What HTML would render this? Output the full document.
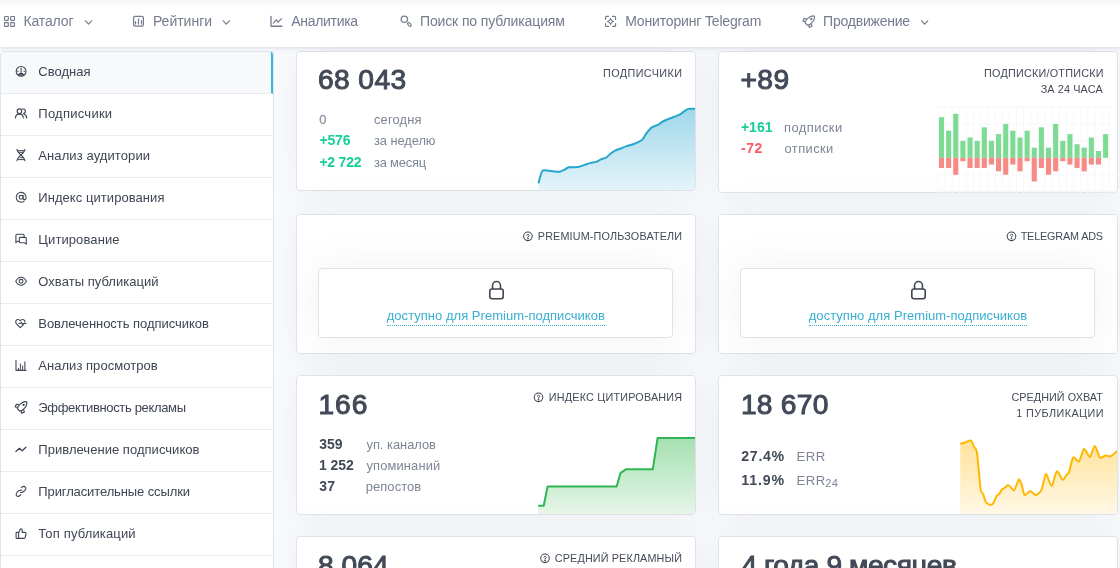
<!DOCTYPE html><html><head><meta charset="utf-8"><title>TGStat</title><style>
*{margin:0;padding:0;box-sizing:border-box}
html,body{width:1120px;height:568px;overflow:hidden}
body{background:#fafbfe;font-family:"Liberation Sans", sans-serif;position:relative}
#root{position:absolute;left:0;top:0;width:1120px;height:568px;overflow:hidden;will-change:transform}
.t{z-index:4;position:absolute;white-space:nowrap;line-height:1}
.nav{z-index:3;position:absolute;left:0;top:0;width:1120px;height:47px;background:linear-gradient(to bottom,#f2f3f5 0,#f9fafa 3px,#fff 9px);box-shadow:0 1px 4px rgba(150,160,180,.35)}
.side{z-index:2;position:absolute;left:0;top:51px;width:274px;height:530px;background:#fff;border:1px solid #dfe3ea;border-radius:4px 0 0 0}
.si{position:absolute;left:0;width:272px;height:42px;border-bottom:1px solid #e9ecf1}
.si.act{background:#f8f9fb;border-right:2px solid #35b8e0;width:272px;border-radius:0 3px 0 0}
.card{position:absolute;width:400px;height:140px;background:#fff;border:1px solid #dfe3e9;border-radius:4px;box-shadow:0 0 35px 0 rgba(154,161,171,.15);overflow:hidden}
.lock{z-index:1;position:absolute;width:355px;height:70px;border:1px solid #dfe3e9;border-radius:4px;background:#fff;box-shadow:0 0 35px 0 rgba(154,161,171,.15)}
.ul{z-index:4;position:absolute;height:0;border-bottom:1px dotted #39afd1}
svg{z-index:4;position:absolute;left:0;top:0;overflow:visible}
</style></head><body><div id="root">
<div class="nav"></div>
<div class="side">
<div class="si act" style="top:0px"></div>
<div class="si" style="top:42px"></div>
<div class="si" style="top:84px"></div>
<div class="si" style="top:126px"></div>
<div class="si" style="top:168px"></div>
<div class="si" style="top:210px"></div>
<div class="si" style="top:252px"></div>
<div class="si" style="top:294px"></div>
<div class="si" style="top:336px"></div>
<div class="si" style="top:378px"></div>
<div class="si" style="top:420px"></div>
<div class="si" style="top:462px"></div>
<div class="si" style="top:504px"></div>
</div>
<div class="card" style="left:296px;top:51px"></div>
<div class="card" style="left:718px;top:51px;height:142px"></div>
<div class="card" style="left:296px;top:214px"></div>
<div class="card" style="left:718px;top:214px"></div>
<div class="card" style="left:296px;top:375px"></div>
<div class="card" style="left:718px;top:375px"></div>
<div class="card" style="left:296px;top:536px"></div>
<div class="card" style="left:718px;top:536px"></div>
<div class="lock" style="left:318px;top:268px"></div>
<div class="lock" style="left:740px;top:268px"></div>
<div class="ul" style="left:387px;top:325px;width:218px"></div><div class="ul" style="left:809px;top:325px;width:218px"></div>
<div class="t" style="left:23.42px;top:14px;font-size:14px;color:#737b8d;letter-spacing:-0.128px">Каталог</div>
<div class="t" style="left:152.92px;top:14px;font-size:14px;color:#737b8d;letter-spacing:-0.009px">Рейтинги</div>
<div class="t" style="left:291.25px;top:14px;font-size:14px;color:#737b8d;letter-spacing:-0.310px">Аналитика</div>
<div class="t" style="left:419.94px;top:14px;font-size:14px;color:#737b8d;letter-spacing:-0.123px">Поиск по публикациям</div>
<div class="t" style="left:625.22px;top:14px;font-size:14px;color:#737b8d;letter-spacing:-0.164px">Мониторинг Telegram</div>
<div class="t" style="left:823.04px;top:14px;font-size:14px;color:#737b8d;letter-spacing:-0.215px">Продвижение</div>
<div class="t" style="left:38.30px;top:65px;font-size:13px;color:#3e4553;letter-spacing:0.000px">Сводная</div>
<div class="t" style="left:38.30px;top:107px;font-size:13px;color:#3e4553;letter-spacing:0.256px">Подписчики</div>
<div class="t" style="left:38.30px;top:149px;font-size:13px;color:#3e4553;letter-spacing:0.096px">Анализ аудитории</div>
<div class="t" style="left:38.30px;top:191px;font-size:13px;color:#3e4553;letter-spacing:0.059px">Индекс цитирования</div>
<div class="t" style="left:38.30px;top:233px;font-size:13px;color:#3e4553;letter-spacing:0.100px">Цитирование</div>
<div class="t" style="left:38.30px;top:275px;font-size:13px;color:#3e4553;letter-spacing:0.041px">Охваты публикаций</div>
<div class="t" style="left:38.30px;top:317px;font-size:13px;color:#3e4553;letter-spacing:-0.043px">Вовлеченность подписчиков</div>
<div class="t" style="left:38.30px;top:359px;font-size:13px;color:#3e4553;letter-spacing:0.036px">Анализ просмотров</div>
<div class="t" style="left:38.30px;top:401px;font-size:13px;color:#3e4553;letter-spacing:-0.344px">Эффективность рекламы</div>
<div class="t" style="left:38.30px;top:443px;font-size:13px;color:#3e4553;letter-spacing:0.037px">Привлечение подписчиков</div>
<div class="t" style="left:38.30px;top:485px;font-size:13px;color:#3e4553;letter-spacing:-0.114px">Пригласительные ссылки</div>
<div class="t" style="left:38.30px;top:527px;font-size:13px;color:#3e4553;letter-spacing:0.149px">Топ публикаций</div>
<div class="t" style="left:317.98px;top:65px;font-size:28.2px;color:#424957;-webkit-text-stroke:1.0px #424957;letter-spacing:0.387px">68 043</div>
<div class="t" style="left:603.10px;top:68px;font-size:10.8px;color:#444a58;letter-spacing:0.403px">ПОДПИСЧИКИ</div>
<div class="t" style="left:319.36px;top:113px;font-size:13px;color:#8e99a6;-webkit-text-stroke:0.3px #8e99a6;letter-spacing:0.000px">0</div>
<div class="t" style="left:374.02px;top:114px;font-size:12.9px;color:#7d8696;letter-spacing:0.134px">сегодня</div>
<div class="t" style="left:319.40px;top:133px;font-size:14px;color:#17cf99;font-weight:700;letter-spacing:-0.125px">+576</div>
<div class="t" style="left:373.94px;top:135px;font-size:12.9px;color:#7d8696;letter-spacing:-0.065px">за неделю</div>
<div class="t" style="left:319.40px;top:155px;font-size:14px;color:#17cf99;font-weight:700;letter-spacing:-0.220px">+2 722</div>
<div class="t" style="left:373.94px;top:157px;font-size:12.9px;color:#7d8696;letter-spacing:-0.180px">за месяц</div>
<div class="t" style="left:740.47px;top:65px;font-size:28.2px;color:#424957;-webkit-text-stroke:1.0px #424957;letter-spacing:0.424px">+89</div>
<div class="t" style="left:984.00px;top:68px;font-size:10.8px;color:#444a58;letter-spacing:0.233px">ПОДПИСКИ/ОТПИСКИ</div>
<div class="t" style="left:1040.63px;top:84px;font-size:10.8px;color:#444a58;letter-spacing:0.153px">ЗА 24 ЧАСА</div>
<div class="t" style="left:740.90px;top:120px;font-size:14px;color:#17cf99;font-weight:700;letter-spacing:0.033px">+161</div>
<div class="t" style="left:784.10px;top:122px;font-size:12.9px;color:#7d8696;letter-spacing:0.457px">подписки</div>
<div class="t" style="left:740.94px;top:141px;font-size:14px;color:#fa5a60;font-weight:700;letter-spacing:0.577px">-72</div>
<div class="t" style="left:784.52px;top:143px;font-size:12.9px;color:#7d8696;letter-spacing:0.412px">отписки</div>
<div class="t" style="left:537.80px;top:231px;font-size:10.8px;color:#444a58;letter-spacing:0.154px">PREMIUM-ПОЛЬЗОВАТЕЛИ</div>
<div class="t" style="left:1020.65px;top:231px;font-size:10.8px;color:#444a58;letter-spacing:-0.142px">TELEGRAM ADS</div>
<div class="t" style="left:386.75px;top:309px;font-size:13px;color:#39afd1;letter-spacing:0.024px">доступно для Premium-подписчиков</div>
<div class="t" style="left:808.75px;top:309px;font-size:13px;color:#39afd1;letter-spacing:0.031px">доступно для Premium-подписчиков</div>
<div class="t" style="left:318.46px;top:390px;font-size:28.2px;color:#424957;-webkit-text-stroke:1.0px #424957;letter-spacing:0.922px">166</div>
<div class="t" style="left:548.80px;top:392px;font-size:10.8px;color:#444a58;letter-spacing:0.200px">ИНДЕКС ЦИТИРОВАНИЯ</div>
<div class="t" style="left:319.14px;top:437px;font-size:14px;color:#424957;font-weight:700;letter-spacing:0.075px">359</div>
<div class="t" style="left:366.46px;top:439px;font-size:12.9px;color:#7d8696;letter-spacing:-0.015px">уп. каналов</div>
<div class="t" style="left:319.10px;top:458px;font-size:14px;color:#424957;font-weight:700;letter-spacing:-0.091px">1 252</div>
<div class="t" style="left:366.46px;top:460px;font-size:12.9px;color:#7d8696;letter-spacing:0.143px">упоминаний</div>
<div class="t" style="left:319.14px;top:479px;font-size:14px;color:#424957;font-weight:700;letter-spacing:0.255px">37</div>
<div class="t" style="left:365.70px;top:481px;font-size:12.9px;color:#7d8696;letter-spacing:0.116px">репостов</div>
<div class="t" style="left:740.96px;top:390px;font-size:28.2px;color:#424957;-webkit-text-stroke:1.0px #424957;letter-spacing:0.237px">18 670</div>
<div class="t" style="left:1011.41px;top:392px;font-size:10.8px;color:#444a58;letter-spacing:0.054px">СРЕДНИЙ ОХВАТ</div>
<div class="t" style="left:1016.26px;top:408px;font-size:10.8px;color:#444a58;letter-spacing:0.421px">1 ПУБЛИКАЦИИ</div>
<div class="t" style="left:741.26px;top:449px;font-size:14.2px;color:#424957;font-weight:700;letter-spacing:0.689px">27.4%</div>
<div class="t" style="left:796.41px;top:450px;font-size:13.2px;color:#7d8696;letter-spacing:0.487px">ERR</div>
<div class="t" style="left:741.20px;top:473px;font-size:14.2px;color:#424957;font-weight:700;letter-spacing:0.890px">11.9%</div>
<div class="t" style="left:796.41px;top:474px;font-size:13.2px;color:#7d8696;letter-spacing:0.487px">ERR</div>
<div class="t" style="left:825.33px;top:478px;font-size:11px;color:#7d8696;letter-spacing:0.196px">24</div>
<div class="t" style="left:318.03px;top:551px;font-size:28.2px;color:#424957;-webkit-text-stroke:1.0px #424957;letter-spacing:0.049px">8 064</div>
<div class="t" style="left:554.81px;top:553px;font-size:10.8px;color:#444a58;letter-spacing:0.143px">СРЕДНИЙ РЕКЛАМНЫЙ</div>
<div class="t" style="left:741.50px;top:551px;font-size:28.2px;color:#424957;-webkit-text-stroke:1.0px #424957;letter-spacing:-0.469px">4 года 9 месяцев</div>
<svg width="1120" height="568" viewBox="0 0 1120 568" fill="none" stroke-linecap="round" stroke-linejoin="round">
<defs>
<linearGradient id="gb" x1="0" y1="0" x2="0" y2="1"><stop offset="0" stop-color="#9fd7ea"/><stop offset="1" stop-color="#e4f4f9"/></linearGradient>
<linearGradient id="gg" x1="0" y1="0" x2="0" y2="1"><stop offset="0" stop-color="#a6e0b1"/><stop offset="1" stop-color="#e6f6e9"/></linearGradient>
<linearGradient id="gy" x1="0" y1="0" x2="0" y2="1"><stop offset="0" stop-color="#ffe29a"/><stop offset="1" stop-color="#fff8e6"/></linearGradient>
</defs>
<clipPath id="c1"><rect x="297" y="52" width="398" height="138" rx="3"/></clipPath><g clip-path="url(#c1)"><path d="M538.4,183.3C538.9,181.7 541.0,172.7 542.3,171.0C543.6,169.3 547.0,170.6 548.5,170.7C550.0,170.8 552.3,171.3 553.8,171.4C555.3,171.5 558.2,171.9 559.6,171.7C561.0,171.5 563.1,170.4 564.3,169.8C565.5,169.2 567.4,167.6 568.7,167.3C570.0,167.0 572.5,167.4 574.0,167.3C575.5,167.2 578.6,166.9 580.2,166.5C581.8,166.1 584.9,164.8 586.3,164.3C587.7,163.8 589.4,163.2 590.7,162.9C592.0,162.6 594.7,162.3 596.0,161.9C597.3,161.5 599.1,160.2 600.4,159.6C601.7,159.0 604.7,158.4 606.0,157.7C607.3,157.0 608.8,155.0 610.1,154.0C611.4,153.0 613.9,151.2 615.4,150.4C616.9,149.6 620.1,148.7 621.5,148.2C622.9,147.7 624.4,146.9 625.9,146.4C627.4,145.9 631.4,144.9 633.0,144.3C634.6,143.7 636.9,142.9 638.2,142.2C639.5,141.5 641.5,140.5 642.6,139.4C643.7,138.3 645.0,135.3 646.2,133.7C647.4,132.1 650.2,128.6 651.8,127.4C653.4,126.2 657.1,125.3 658.5,124.6C659.9,123.9 660.7,122.6 662.0,121.9C663.3,121.2 666.6,119.8 668.2,119.1C669.8,118.4 672.8,117.4 674.3,116.8C675.8,116.2 678.4,115.3 679.6,114.7C680.8,114.1 681.9,112.9 683.1,112.1C684.3,111.3 686.8,109.3 688.4,108.9C690.0,108.5 694.1,108.9 695.0,108.9 L695.0,190 L538.4,190 Z" fill="url(#gb)" stroke="none"/><path d="M538.4,183.3C538.9,181.7 541.0,172.7 542.3,171.0C543.6,169.3 547.0,170.6 548.5,170.7C550.0,170.8 552.3,171.3 553.8,171.4C555.3,171.5 558.2,171.9 559.6,171.7C561.0,171.5 563.1,170.4 564.3,169.8C565.5,169.2 567.4,167.6 568.7,167.3C570.0,167.0 572.5,167.4 574.0,167.3C575.5,167.2 578.6,166.9 580.2,166.5C581.8,166.1 584.9,164.8 586.3,164.3C587.7,163.8 589.4,163.2 590.7,162.9C592.0,162.6 594.7,162.3 596.0,161.9C597.3,161.5 599.1,160.2 600.4,159.6C601.7,159.0 604.7,158.4 606.0,157.7C607.3,157.0 608.8,155.0 610.1,154.0C611.4,153.0 613.9,151.2 615.4,150.4C616.9,149.6 620.1,148.7 621.5,148.2C622.9,147.7 624.4,146.9 625.9,146.4C627.4,145.9 631.4,144.9 633.0,144.3C634.6,143.7 636.9,142.9 638.2,142.2C639.5,141.5 641.5,140.5 642.6,139.4C643.7,138.3 645.0,135.3 646.2,133.7C647.4,132.1 650.2,128.6 651.8,127.4C653.4,126.2 657.1,125.3 658.5,124.6C659.9,123.9 660.7,122.6 662.0,121.9C663.3,121.2 666.6,119.8 668.2,119.1C669.8,118.4 672.8,117.4 674.3,116.8C675.8,116.2 678.4,115.3 679.6,114.7C680.8,114.1 681.9,112.9 683.1,112.1C684.3,111.3 686.8,109.3 688.4,108.9C690.0,108.5 694.1,108.9 695.0,108.9" stroke="#27a6cf" stroke-width="2" fill="none" stroke-linecap="butt"/></g>
<clipPath id="c3"><rect x="297" y="376" width="398" height="138" rx="3"/></clipPath><g clip-path="url(#c3)"><path d="M538.1,505.7 L543.7,505.7 L547.6,486.5 L616.6,486.5 L620.6,472.8 L625.9,469.3 L652.8,469.3 L657.6,438.0 L695.0,438.0 L695.0,514 L538.1,514 Z" fill="url(#gg)" stroke="none"/><path d="M538.1,505.7 L543.7,505.7 L547.6,486.5 L616.6,486.5 L620.6,472.8 L625.9,469.3 L652.8,469.3 L657.6,438.0 L695.0,438.0" stroke="#2fb653" stroke-width="2" fill="none" stroke-linecap="butt"/></g>
<clipPath id="c4"><rect x="719" y="376" width="398" height="138" rx="3"/></clipPath><g clip-path="url(#c4)"><path d="M960.2,443.8C960.9,443.6 964.3,442.6 965.8,442.2C967.3,441.8 970.0,440.0 971.1,440.6C972.2,441.2 973.0,444.9 973.8,446.4C974.6,447.9 976.1,448.2 976.8,451.7C977.5,455.2 978.5,467.6 979.0,472.8C979.5,478.0 980.3,487.6 980.8,490.4C981.3,493.2 982.4,492.3 983.1,493.9C983.8,495.5 984.9,501.0 986.1,502.4C987.3,503.8 990.8,505.4 992.2,504.5C993.6,503.6 995.7,497.4 996.6,496.0C997.5,494.6 998.6,494.8 999.3,493.9C1000.0,493.0 1001.2,490.3 1001.9,489.5C1002.6,488.7 1004.0,488.4 1004.9,487.8C1005.8,487.2 1007.2,484.8 1008.4,485.1C1009.6,485.4 1012.6,490.4 1013.7,490.4C1014.8,490.4 1015.8,486.6 1016.5,485.1C1017.2,483.6 1018.5,479.3 1019.2,479.3C1019.9,479.3 1021.1,483.0 1021.8,485.1C1022.5,487.2 1023.7,494.4 1024.8,495.2C1025.9,496.0 1028.6,490.9 1030.1,490.9C1031.6,490.9 1034.2,495.3 1035.7,495.2C1037.2,495.1 1040.1,492.7 1041.5,489.9C1042.9,487.1 1044.6,474.5 1045.9,474.0C1047.2,473.5 1050.1,486.3 1051.6,486.0C1053.1,485.7 1055.3,472.2 1056.8,471.4C1058.3,470.6 1061.3,479.3 1062.6,479.8C1063.9,480.3 1065.3,476.5 1066.2,475.4C1067.1,474.3 1068.2,474.3 1069.1,471.9C1070.0,469.5 1071.9,458.9 1073.2,457.5C1074.5,456.1 1077.5,462.5 1079.0,461.4C1080.5,460.3 1082.6,449.6 1084.1,449.0C1085.6,448.4 1088.5,457.4 1089.9,457.0C1091.3,456.6 1093.5,445.9 1094.8,446.0C1096.1,446.1 1098.5,456.2 1099.9,457.5C1101.3,458.8 1103.9,455.8 1105.4,455.6C1106.9,455.4 1109.5,456.7 1111.0,456.1C1112.5,455.5 1116.2,451.7 1117.0,451.0 L1117.0,514 L960.2,514 Z" fill="url(#gy)" stroke="none"/><path d="M960.2,443.8C960.9,443.6 964.3,442.6 965.8,442.2C967.3,441.8 970.0,440.0 971.1,440.6C972.2,441.2 973.0,444.9 973.8,446.4C974.6,447.9 976.1,448.2 976.8,451.7C977.5,455.2 978.5,467.6 979.0,472.8C979.5,478.0 980.3,487.6 980.8,490.4C981.3,493.2 982.4,492.3 983.1,493.9C983.8,495.5 984.9,501.0 986.1,502.4C987.3,503.8 990.8,505.4 992.2,504.5C993.6,503.6 995.7,497.4 996.6,496.0C997.5,494.6 998.6,494.8 999.3,493.9C1000.0,493.0 1001.2,490.3 1001.9,489.5C1002.6,488.7 1004.0,488.4 1004.9,487.8C1005.8,487.2 1007.2,484.8 1008.4,485.1C1009.6,485.4 1012.6,490.4 1013.7,490.4C1014.8,490.4 1015.8,486.6 1016.5,485.1C1017.2,483.6 1018.5,479.3 1019.2,479.3C1019.9,479.3 1021.1,483.0 1021.8,485.1C1022.5,487.2 1023.7,494.4 1024.8,495.2C1025.9,496.0 1028.6,490.9 1030.1,490.9C1031.6,490.9 1034.2,495.3 1035.7,495.2C1037.2,495.1 1040.1,492.7 1041.5,489.9C1042.9,487.1 1044.6,474.5 1045.9,474.0C1047.2,473.5 1050.1,486.3 1051.6,486.0C1053.1,485.7 1055.3,472.2 1056.8,471.4C1058.3,470.6 1061.3,479.3 1062.6,479.8C1063.9,480.3 1065.3,476.5 1066.2,475.4C1067.1,474.3 1068.2,474.3 1069.1,471.9C1070.0,469.5 1071.9,458.9 1073.2,457.5C1074.5,456.1 1077.5,462.5 1079.0,461.4C1080.5,460.3 1082.6,449.6 1084.1,449.0C1085.6,448.4 1088.5,457.4 1089.9,457.0C1091.3,456.6 1093.5,445.9 1094.8,446.0C1096.1,446.1 1098.5,456.2 1099.9,457.5C1101.3,458.8 1103.9,455.8 1105.4,455.6C1106.9,455.4 1109.5,456.7 1111.0,456.1C1112.5,455.5 1116.2,451.7 1117.0,451.0" stroke="#ffb800" stroke-width="2" fill="none" stroke-linecap="butt"/></g>
<g stroke="none">
<rect x="938" y="191.15" width="178" height="1" fill="#f5f6f9"/>
<rect x="938" y="174.23" width="178" height="1" fill="#f5f6f9"/>
<rect x="938" y="157.30" width="178" height="1" fill="#f5f6f9"/>
<rect x="938" y="140.38" width="178" height="1" fill="#f5f6f9"/>
<rect x="938" y="123.45" width="178" height="1" fill="#f5f6f9"/>
<rect x="938" y="106.53" width="178" height="1" fill="#f5f6f9"/>
<rect x="937.45" y="107" width="1" height="86" fill="#f7f8fa"/>
<rect x="944.59" y="107" width="1" height="86" fill="#f7f8fa"/>
<rect x="951.72" y="107" width="1" height="86" fill="#f7f8fa"/>
<rect x="958.86" y="107" width="1" height="86" fill="#f7f8fa"/>
<rect x="965.99" y="107" width="1" height="86" fill="#f7f8fa"/>
<rect x="973.12" y="107" width="1" height="86" fill="#f7f8fa"/>
<rect x="980.26" y="107" width="1" height="86" fill="#f7f8fa"/>
<rect x="987.40" y="107" width="1" height="86" fill="#f7f8fa"/>
<rect x="994.53" y="107" width="1" height="86" fill="#f7f8fa"/>
<rect x="1001.67" y="107" width="1" height="86" fill="#f7f8fa"/>
<rect x="1008.80" y="107" width="1" height="86" fill="#f7f8fa"/>
<rect x="1015.94" y="107" width="1" height="86" fill="#f7f8fa"/>
<rect x="1023.07" y="107" width="1" height="86" fill="#f7f8fa"/>
<rect x="1030.20" y="107" width="1" height="86" fill="#f7f8fa"/>
<rect x="1037.34" y="107" width="1" height="86" fill="#f7f8fa"/>
<rect x="1044.48" y="107" width="1" height="86" fill="#f7f8fa"/>
<rect x="1051.61" y="107" width="1" height="86" fill="#f7f8fa"/>
<rect x="1058.75" y="107" width="1" height="86" fill="#f7f8fa"/>
<rect x="1065.88" y="107" width="1" height="86" fill="#f7f8fa"/>
<rect x="1073.02" y="107" width="1" height="86" fill="#f7f8fa"/>
<rect x="1080.15" y="107" width="1" height="86" fill="#f7f8fa"/>
<rect x="1087.29" y="107" width="1" height="86" fill="#f7f8fa"/>
<rect x="1094.42" y="107" width="1" height="86" fill="#f7f8fa"/>
<rect x="1101.56" y="107" width="1" height="86" fill="#f7f8fa"/>
<rect x="1108.69" y="107" width="1" height="86" fill="#f7f8fa"/>
<rect x="938.95" y="117.18" width="5.1" height="40.62" fill="#7edb94"/>
<rect x="938.95" y="157.80" width="5.1" height="10.15" fill="#f68a84"/>
<rect x="946.09" y="130.72" width="5.1" height="27.08" fill="#7edb94"/>
<rect x="946.09" y="157.80" width="5.1" height="10.15" fill="#f68a84"/>
<rect x="953.22" y="113.80" width="5.1" height="44.00" fill="#7edb94"/>
<rect x="953.22" y="157.80" width="5.1" height="16.92" fill="#f68a84"/>
<rect x="960.36" y="140.88" width="5.1" height="16.92" fill="#7edb94"/>
<rect x="960.36" y="157.80" width="5.1" height="3.38" fill="#f68a84"/>
<rect x="967.49" y="137.49" width="5.1" height="20.31" fill="#7edb94"/>
<rect x="967.49" y="157.80" width="5.1" height="10.15" fill="#f68a84"/>
<rect x="974.62" y="140.88" width="5.1" height="16.92" fill="#7edb94"/>
<rect x="974.62" y="157.80" width="5.1" height="10.15" fill="#f68a84"/>
<rect x="981.76" y="127.34" width="5.1" height="30.46" fill="#7edb94"/>
<rect x="981.76" y="157.80" width="5.1" height="10.15" fill="#f68a84"/>
<rect x="988.90" y="140.88" width="5.1" height="16.92" fill="#7edb94"/>
<rect x="988.90" y="157.80" width="5.1" height="6.77" fill="#f68a84"/>
<rect x="996.03" y="134.11" width="5.1" height="23.70" fill="#7edb94"/>
<rect x="996.03" y="157.80" width="5.1" height="13.54" fill="#f68a84"/>
<rect x="1003.17" y="123.95" width="5.1" height="33.85" fill="#7edb94"/>
<rect x="1003.17" y="157.80" width="5.1" height="16.92" fill="#f68a84"/>
<rect x="1010.30" y="130.72" width="5.1" height="27.08" fill="#7edb94"/>
<rect x="1010.30" y="157.80" width="5.1" height="6.77" fill="#f68a84"/>
<rect x="1017.44" y="137.49" width="5.1" height="20.31" fill="#7edb94"/>
<rect x="1017.44" y="157.80" width="5.1" height="13.54" fill="#f68a84"/>
<rect x="1024.57" y="130.72" width="5.1" height="27.08" fill="#7edb94"/>
<rect x="1024.57" y="157.80" width="5.1" height="3.38" fill="#f68a84"/>
<rect x="1031.70" y="147.65" width="5.1" height="10.15" fill="#7edb94"/>
<rect x="1031.70" y="157.80" width="5.1" height="23.70" fill="#f68a84"/>
<rect x="1038.84" y="127.34" width="5.1" height="30.46" fill="#7edb94"/>
<rect x="1038.84" y="157.80" width="5.1" height="10.15" fill="#f68a84"/>
<rect x="1045.98" y="147.65" width="5.1" height="10.15" fill="#7edb94"/>
<rect x="1045.98" y="157.80" width="5.1" height="16.92" fill="#f68a84"/>
<rect x="1053.11" y="123.95" width="5.1" height="33.85" fill="#7edb94"/>
<rect x="1053.11" y="157.80" width="5.1" height="13.54" fill="#f68a84"/>
<rect x="1060.25" y="140.88" width="5.1" height="16.92" fill="#7edb94"/>
<rect x="1060.25" y="157.80" width="5.1" height="3.38" fill="#f68a84"/>
<rect x="1067.38" y="134.11" width="5.1" height="23.70" fill="#7edb94"/>
<rect x="1067.38" y="157.80" width="5.1" height="6.77" fill="#f68a84"/>
<rect x="1074.52" y="144.26" width="5.1" height="13.54" fill="#7edb94"/>
<rect x="1074.52" y="157.80" width="5.1" height="10.15" fill="#f68a84"/>
<rect x="1081.65" y="147.65" width="5.1" height="10.15" fill="#7edb94"/>
<rect x="1081.65" y="157.80" width="5.1" height="13.54" fill="#f68a84"/>
<rect x="1088.79" y="137.49" width="5.1" height="20.31" fill="#7edb94"/>
<rect x="1088.79" y="157.80" width="5.1" height="6.77" fill="#f68a84"/>
<rect x="1095.92" y="151.03" width="5.1" height="6.77" fill="#7edb94"/>
<rect x="1095.92" y="157.80" width="5.1" height="6.77" fill="#f68a84"/>
<rect x="1103.06" y="134.11" width="5.1" height="23.70" fill="#7edb94"/>
</g>
<g stroke="#737b8d" stroke-width="1.1">
<rect x="4.52" y="16.52" width="3.8" height="3.8" rx="0.5" stroke-width="1.15"/>
<rect x="4.52" y="22.65" width="3.8" height="3.8" rx="0.5" stroke-width="1.15"/>
<rect x="10.65" y="16.52" width="3.8" height="3.8" rx="0.5" stroke-width="1.15"/>
<rect x="10.65" y="22.65" width="3.8" height="3.8" rx="0.5" stroke-width="1.15"/>
<path d="M85.5,20.8 L88.6,24.1 L91.69999999999999,20.8" stroke-width="1.2"/>
<path d="M223.20000000000002,20.8 L226.3,24.1 L229.4,20.8" stroke-width="1.2"/>
<path d="M921.5,20.8 L924.6,24.1 L927.7,20.8" stroke-width="1.2"/>
<rect x="133.6" y="16.4" width="9.8" height="9.8" rx="1.6" stroke-width="1.25"/><path d="M135.6,21.5V24M138.5,18.8V24.1M141.5,20.6V24" stroke-width="1.2"/>
<path stroke-width="1.3" d="M271,16.3V26.25H281.9"/><path stroke-width="1.2" d="M273.3,23.1L276.25,19.8L278.15,22.1L281.5,18.7"/>
<circle cx="404.35" cy="19.3" r="3.2" stroke-width="1.25"/><ellipse cx="409.4" cy="24.5" rx="2.25" ry="1.2" transform="rotate(45 409.4 24.5)" stroke-width="1.15"/>
<path stroke-width="1.2" d="M605.55,19.4V17.45A1,1 0 0 1 606.55,16.45H608.5M612.6,16.45H614.55A1,1 0 0 1 615.55,17.45V19.4M615.55,23.5V25.45A1,1 0 0 1 614.55,26.45H612.6M608.5,26.45H606.55A1,1 0 0 1 605.55,25.45V23.5"/>
<path stroke-width="1.1" d="M610.55,18.4Q611.1,20.9 613.6,21.45Q611.1,22 610.55,24.5Q610,22 607.5,21.45Q610,20.9 610.55,18.4Z"/>
<g transform="translate(809.65,20.7)" stroke="#737b8d" stroke-width="1.2"><g transform="rotate(45)"><path d="M0,-6.6C2.2,-5.2 3,-2.5 3,0C3,1.8 2.6,3.4 1.9,4.8H-1.9C-2.6,3.4 -3,1.8 -3,0C-3,-2.5 -2.2,-5.2 0,-6.6Z"/><circle cx="0" cy="-2.3" r=".55" fill="#737b8d"/></g><path d="M-3.3,-1.7L-5.6,-2.3L-6.8,0.5L-4.4,0.8M1.7,3.3L2.3,5.6L-0.5,6.8L-0.8,4.4"/></g>
</g>
<g stroke="#3e4553" stroke-width="1.08">
<circle cx="21.1" cy="71.4" r="4.9"/><path d="M21.1,68.2V73.4M19.7,73.6H22.5M18.2,74.3Q21.1,76 24,74.3M17.6,71.2H18.2M24,71.2H24.6"/>
<circle cx="19.4" cy="111.2" r="2.3"/><path d="M15.5,117.9C15.5,115.5 17.2,114.1 19.4,114.1C21.6,114.1 23.3,115.5 23.3,117.9M22.4,109.1C25.6,108.3 26.6,112.5 23.5,113.4M23.9,113.9C25.7,114.6 26.7,116 26.7,117.9"/>
<path d="M17,149.4C17,153.2 24.9,156.8 24.9,160.7M24.9,149.4C24.9,153.2 17,156.8 17,160.7"/><path d="M17.6,150.7H24.3M18.6,152.3H23.3M20.2,157.7H23.6M18.4,159.6H24.3" stroke-width="1"/>
<circle cx="21.1" cy="197.3" r="1.95"/><path d="M24.2,201.1A4.9,4.9 0 1 1 26,197.3V198.2A1.45,1.45 0 0 1 23.1,198.2V195.4"/>
<path d="M19.2,241.2H17.6L15.9,242.7V235.3A1,1 0 0 1 16.9,234.3H23.1A1,1 0 0 1 24.1,235.3V237"/><path d="M20.3,237.4H25.3A1,1 0 0 1 26.3,238.4V244.2L24.7,242.8H20.3A1,1 0 0 1 19.3,241.8V238.4A1,1 0 0 1 20.3,237.4Z"/>
<path d="M15.7,281.3C17.5,278.2 19.5,277.3 21.1,277.3C22.7,277.3 24.7,278.2 26.5,281.3C24.7,284.4 22.7,285.3 21.1,285.3C19.5,285.3 17.5,284.4 15.7,281.3Z"/><circle cx="21.1" cy="281.3" r="1.9"/>
<path d="M24.9,322.3C25.1,321.3 24.7,320.3 23.7,319.8C22.5,319.2 21.1,319.6 20.3,320.8C19.5,319.6 18.1,319.2 16.9,319.8C15.5,320.6 15.3,322.5 16.5,323.8L20.3,327.6L23.6,324.6"/><path d="M18.9,323.5H20.4L21.3,322.4L22.6,324.4L23.3,323.5H26"/>
<path d="M16,360.3V370.4H26M24.9,361.7V370" /><path d="M18.4,368.3V370M20.4,363.9V370M22.6,365.9V370" stroke-width="1"/>
<g transform="translate(22,406.5)" stroke="#3e4553" stroke-width="1.15"><g transform="rotate(45)"><path d="M0,-6.6C2.2,-5.2 3,-2.5 3,0C3,1.8 2.6,3.4 1.9,4.8H-1.9C-2.6,3.4 -3,1.8 -3,0C-3,-2.5 -2.2,-5.2 0,-6.6Z"/><circle cx="0" cy="-2.3" r=".55" fill="#3e4553"/></g><path d="M-3.3,-1.7L-5.6,-2.3L-6.8,0.5L-4.4,0.8M1.7,3.3L2.3,5.6L-0.5,6.8L-0.8,4.4"/></g>
<path d="M15.9,451.5L19.4,448.3L22.2,450.8L25.9,447.2" stroke-width="1.25"/>
<path d="M21.2,487.7C21.4,487.5 21.8,487.1 22.3,486.8C22.8,486.6 23.2,486.4 23.8,486.4C24.4,486.5 24.9,486.8 25.3,487.2C25.7,487.6 25.9,488.1 25.9,488.7C25.8,489.3 25.5,489.7 25.0,490.3C24.5,490.9 23.9,491.4 23.3,491.8C22.7,492.2 22.3,492.3 21.8,492.4C21.3,492.6 20.8,492.4 20.6,492.4M21.8,490.2C21.6,490.2 21.3,490.1 20.7,490.2C20.1,490.3 19.5,490.4 18.8,490.8C18.1,491.2 17.6,491.7 17.1,492.4C16.6,493.1 16.3,493.5 16.2,494.2C16.2,494.9 16.3,495.5 16.7,495.9C17.1,496.3 17.7,496.5 18.3,496.4C18.9,496.3 19.4,495.9 19.9,495.5C20.4,495.1 20.5,494.8 20.7,494.6"/>
<rect x="16.1" y="532.4" width="2.5" height="6" rx=".6"/><path d="M18.6,532.8L20.5,528.7C21.7,528.6 22.5,529.5 22.3,530.7L22,532.4H24.9C25.7,532.4 26.2,533.1 26,533.8L25.1,537.5C24.9,538.1 24.4,538.4 23.8,538.4H18.6"/>
</g>
<g stroke="#3e4553" stroke-width="1.6"><rect x="489.8" y="289" width="13.4" height="9.8" rx="2.2"/><path d="M492.55,288.8V285.5A3.95,3.95 0 0 1 500.45,285.5V288.8"/></g>
<g stroke="#3e4553" stroke-width="1.6"><rect x="911.8" y="289" width="13.4" height="9.8" rx="2.2"/><path d="M914.55,288.8V285.5A3.95,3.95 0 0 1 922.45,285.5V288.8"/></g>
<g stroke="#3e4553" stroke-width="1.05"><circle cx="527.9" cy="236.3" r="4.3"/><path d="M526.8,235.3A1.15,1.15 0 1 1 527.9,236.60000000000002V237.20000000000002" stroke-width=".9"/><circle cx="527.9" cy="238.5" r=".35" fill="#3e4553"/></g>
<g stroke="#3e4553" stroke-width="1.05"><circle cx="1011.5" cy="236.3" r="4.3"/><path d="M1010.4,235.3A1.15,1.15 0 1 1 1011.5,236.60000000000002V237.20000000000002" stroke-width=".9"/><circle cx="1011.5" cy="238.5" r=".35" fill="#3e4553"/></g>
<g stroke="#3e4553" stroke-width="1.05"><circle cx="538.5" cy="397.3" r="4.3"/><path d="M537.4,396.3A1.15,1.15 0 1 1 538.5,397.6V398.2" stroke-width=".9"/><circle cx="538.5" cy="399.5" r=".35" fill="#3e4553"/></g>
<g stroke="#3e4553" stroke-width="1.05"><circle cx="545" cy="558.3" r="4.3"/><path d="M543.9,557.3A1.15,1.15 0 1 1 545,558.5999999999999V559.1999999999999" stroke-width=".9"/><circle cx="545" cy="560.5" r=".35" fill="#3e4553"/></g>
</svg>
</div></body></html>
